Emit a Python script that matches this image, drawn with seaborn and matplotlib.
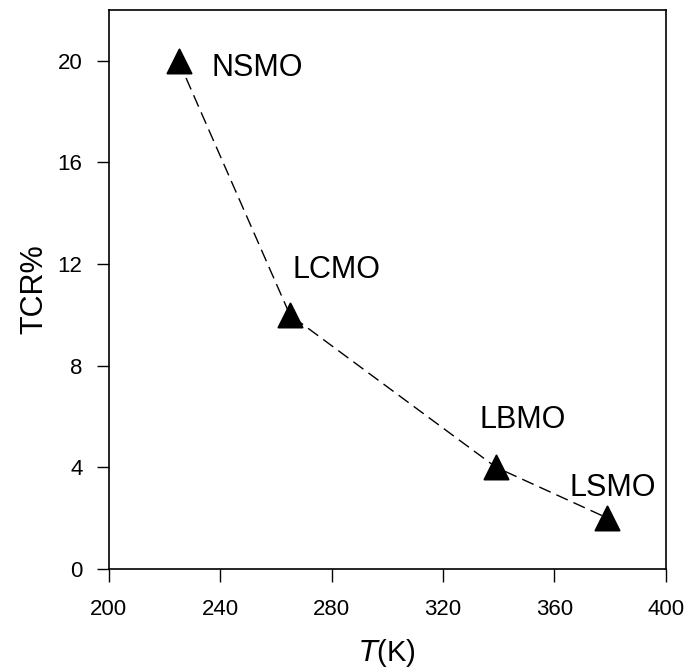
import matplotlib
matplotlib.use('Agg')
import matplotlib.pyplot as plt
import seaborn as sns
import pandas as pd

# data
temps = [225, 265, 339, 379]
tcr = [20, 10, 4, 2]
names = ['NSMO', 'LCMO', 'LBMO', 'LSMO']

df = pd.DataFrame({'T': temps, 'TCR': tcr, 'name': names})

sns.set_style('ticks')
plt.rcParams['font.family'] = ['Liberation Sans', 'DejaVu Sans']
plt.rcParams['text.color'] = 'black'
plt.rcParams['axes.labelcolor'] = 'black'
plt.rcParams['xtick.color'] = 'black'
plt.rcParams['ytick.color'] = 'black'
plt.rcParams['axes.edgecolor'] = 'black'

fig = plt.figure(figsize=(6.85, 6.7), dpi=100)
ax = fig.add_axes([0.159, 0.151, 0.813, 0.834])

sns.lineplot(data=df, x='T', y='TCR', ax=ax, color='black', lw=1.0,
             dashes=False, linestyle=(0, (9, 4.5)))
sns.scatterplot(data=df, x='T', y='TCR', ax=ax, marker='^', s=300,
                color='black', edgecolor='black', zorder=3)

# label offsets (data units)
offs = [(12, -0.3), (1, 1.75), (-6, 1.85), (-13.5, 1.2)]
for (_, r), (dx, dy) in zip(df.iterrows(), offs):
    ax.text(r['T'] + dx, r['TCR'] + dy, r['name'], fontsize=22,
            ha='left', va='center')

ax.set_xlim(200, 400)
ax.set_ylim(0, 22)
ax.set_xticks([200, 240, 280, 320, 360, 400])
ax.set_yticks([0, 4, 8, 12, 16, 20])
ax.tick_params(direction='out', length=9, width=1, labelsize=16)
ax.tick_params(axis='x', pad=13)
ax.tick_params(axis='y', pad=10)
for s in ax.spines.values():
    s.set_linewidth(1.2)
    s.set_visible(True)

ax.set_xlabel('$\\mathit{T}$(K)', fontsize=21, labelpad=12)
ax.set_ylabel('TCR%', fontsize=22, labelpad=6)

fig.savefig('out.png', dpi=100)
